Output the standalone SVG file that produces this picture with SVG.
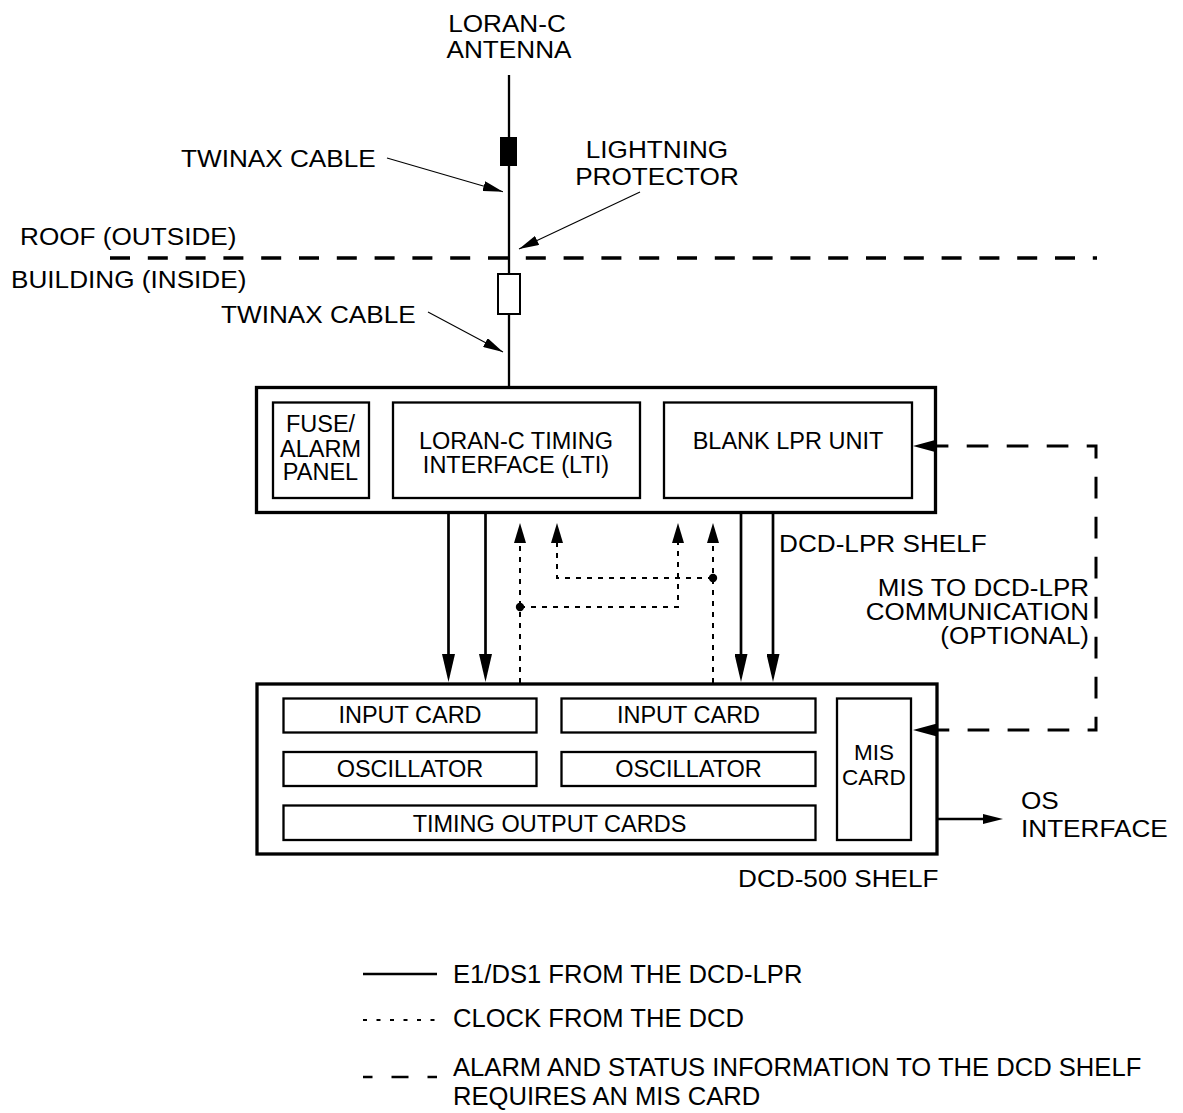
<svg xmlns="http://www.w3.org/2000/svg" width="1183" height="1113" viewBox="0 0 1183 1113">
<style>
  .t{font-family:"Liberation Sans",Arial,Helvetica,sans-serif;fill:#000}
  .o{font-size:24px}
  .o2{font-size:23px}
  .b{font-size:23.5px}
  .mc{font-size:22.5px}
  .lg{font-size:25.6px}
  .m{text-anchor:middle}
  .e{text-anchor:end}
  .shelf{fill:#fff;stroke:#000;stroke-width:3.3}
  .card{fill:#fff;stroke:#000;stroke-width:2.3}
  .solid{fill:none;stroke:#000;stroke-width:2.7}
  .dot{fill:none;stroke:#000;stroke-width:2;stroke-dasharray:5 6}
  .dash{fill:none;stroke:#000;stroke-width:3;stroke-dasharray:21.7 18.3}
  .lead{fill:none;stroke:#000;stroke-width:1.1}
</style>
<defs>
  <marker id="aSolid" markerUnits="userSpaceOnUse" viewBox="0 0 28 13" markerWidth="28" markerHeight="13" refX="20" refY="6.5" orient="auto"><path d="M0,0 L28,6.5 L0,13 z" fill="#000"/></marker>
  <marker id="aDot" markerUnits="userSpaceOnUse" viewBox="0 0 20 12" markerWidth="20" markerHeight="12" refX="12" refY="6" orient="auto"><path d="M0,0 L20,6 L0,12 z" fill="#000"/></marker>
  <marker id="aDash" markerUnits="userSpaceOnUse" viewBox="0 0 24 13" markerWidth="24" markerHeight="13" refX="16" refY="6.5" orient="auto-start-reverse"><path d="M0,0 L24,6.5 L0,13 z" fill="#000"/></marker>
  <marker id="aOS" markerUnits="userSpaceOnUse" viewBox="0 0 20 10" markerWidth="20" markerHeight="10" refX="12" refY="5" orient="auto"><path d="M0,0 L20,5 L0,10 z" fill="#000"/></marker>
  <marker id="aLead" markerUnits="userSpaceOnUse" viewBox="0 0 20 10" markerWidth="20" markerHeight="10" refX="20" refY="5" orient="auto"><path d="M0,0 L20,5 L0,10 z" fill="#000"/></marker>
</defs>
<rect width="1183" height="1113" fill="#fff"/>

<!-- roof/building boundary -->
<g id="boundary">
  <line x1="110" y1="258" x2="1097" y2="258" stroke="#000" stroke-width="3.5" stroke-dasharray="20 17.8"/>
  <text class="t o" transform="translate(20,245) scale(1.09,1)">ROOF (OUTSIDE)</text>
  <text class="t o" transform="translate(11,288) scale(1.09,1)">BUILDING (INSIDE)</text>
</g>

<!-- antenna and cable -->
<g id="antenna">
  <text class="t o m" transform="translate(507,31.5) scale(1.09,1)">LORAN-C</text>
  <text class="t o m" transform="translate(509,58.3) scale(1.09,1)">ANTENNA</text>
  <line x1="509" y1="75" x2="509" y2="387" stroke="#000" stroke-width="2.3"/>
  <rect x="500" y="137" width="17" height="29" fill="#000"/>
</g>
<g id="lightning-protector">
  <rect x="498" y="274" width="22" height="40" fill="#fff" stroke="#000" stroke-width="2"/>
  <text class="t o m" transform="translate(657,158.3) scale(1.09,1)">LIGHTNING</text>
  <text class="t o m" transform="translate(657,185) scale(1.09,1)">PROTECTOR</text>
</g>
<g id="twinax-labels">
  <text class="t o" transform="translate(181,167.3) scale(1.09,1)">TWINAX CABLE</text>
  <text class="t o" transform="translate(221,323.3) scale(1.09,1)">TWINAX CABLE</text>
</g>

<!-- DCD-LPR shelf -->
<g id="dcd-lpr-shelf">
  <rect class="shelf" x="256.5" y="387.5" width="679" height="125"/>
  <text class="t o" transform="translate(779,552) scale(1.09,1)">DCD-LPR SHELF</text>
</g>
<g id="fuse-alarm-panel">
  <rect class="card" x="273" y="402.5" width="96" height="95.5"/>
  <text class="t b m" x="320.5" y="432">FUSE/</text>
  <text class="t b m" x="320.5" y="456.5">ALARM</text>
  <text class="t b m" x="320.5" y="480">PANEL</text>
</g>
<g id="lti">
  <rect class="card" x="393" y="402.5" width="247" height="95.5"/>
  <text class="t b m" x="516" y="449">LORAN-C TIMING</text>
  <text class="t b m" x="516" y="473">INTERFACE (LTI)</text>
</g>
<g id="blank-lpr">
  <rect class="card" x="664" y="402.5" width="248" height="95.5"/>
  <text class="t b m" x="788" y="449">BLANK LPR UNIT</text>
</g>

<!-- DCD-500 shelf -->
<g id="dcd-500-shelf">
  <rect class="shelf" x="257" y="684" width="680" height="170"/>
  <text class="t o" transform="translate(738,887) scale(1.09,1)">DCD-500 SHELF</text>
</g>
<g id="input-card-1">
  <rect class="card" x="283.5" y="698.5" width="253" height="34"/>
  <text class="t b m" x="410" y="723">INPUT CARD</text>
</g>
<g id="input-card-2">
  <rect class="card" x="561.5" y="698.5" width="254" height="34"/>
  <text class="t b m" x="688.5" y="723">INPUT CARD</text>
</g>
<g id="oscillator-1">
  <rect class="card" x="283.5" y="752" width="253" height="34"/>
  <text class="t b m" x="410" y="777">OSCILLATOR</text>
</g>
<g id="oscillator-2">
  <rect class="card" x="561.5" y="752" width="254" height="34"/>
  <text class="t b m" x="688.5" y="777">OSCILLATOR</text>
</g>
<g id="timing-output-cards">
  <rect class="card" x="283.5" y="805.5" width="532" height="34.5"/>
  <text class="t b m" x="549.5" y="832">TIMING OUTPUT CARDS</text>
</g>
<g id="mis-card">
  <rect class="card" x="837" y="698.5" width="74" height="141.5"/>
  <text class="t mc m" x="874" y="760">MIS</text>
  <text class="t mc m" x="874" y="784.5">CARD</text>
</g>

<g id="os-interface">
  <text class="t o" transform="translate(1021,809) scale(1.09,1)">OS</text>
  <text class="t o" transform="translate(1021,837) scale(1.09,1)">INTERFACE</text>
</g>
<g id="mis-comm-label">
  <text class="t o2 e" transform="translate(1089,596) scale(1.13,1)">MIS TO DCD-LPR</text>
  <text class="t o2 e" transform="translate(1089,620) scale(1.13,1)">COMMUNICATION</text>
  <text class="t o2 e" transform="translate(1089,644) scale(1.13,1)">(OPTIONAL)</text>
</g>

<!-- connectors -->
<g id="connectors">
  <line class="lead" x1="387" y1="158" x2="503" y2="191.7" marker-end="url(#aLead)"/>
  <line class="lead" x1="640" y1="192" x2="519" y2="249" marker-end="url(#aLead)"/>
  <line class="lead" x1="428" y1="312" x2="503" y2="352" marker-end="url(#aLead)"/>

  <line class="solid" x1="448.5" y1="514" x2="448.5" y2="674" marker-end="url(#aSolid)"/>
  <line class="solid" x1="485.5" y1="514" x2="485.5" y2="674" marker-end="url(#aSolid)"/>
  <line class="solid" x1="741" y1="514" x2="741" y2="674" marker-end="url(#aSolid)"/>
  <line class="solid" x1="773" y1="514" x2="773" y2="674" marker-end="url(#aSolid)"/>

  <line class="dot" x1="520" y1="683" x2="520" y2="531" marker-end="url(#aDot)"/>
  <polyline class="dot" points="520,607 678,607 678,531" marker-end="url(#aDot)"/>
  <polyline class="dot" points="713,578 557,578 557,531" marker-end="url(#aDot)"/>
  <line class="dot" x1="713" y1="683" x2="713" y2="531" marker-end="url(#aDot)"/>
  <circle cx="520" cy="607" r="4.2" fill="#000"/>
  <circle cx="713" cy="578" r="4.2" fill="#000"/>

  <path class="dash" d="M921,446 H1096 V730 H921" stroke-dashoffset="34.3" marker-start="url(#aDash)" marker-end="url(#aDash)"/>

  <line class="solid" x1="937" y1="819" x2="995" y2="819" marker-end="url(#aOS)"/>
</g>

<!-- legend -->
<g id="legend">
  <line x1="363" y1="974" x2="437" y2="974" stroke="#000" stroke-width="2.7"/>
  <text class="t lg" x="453" y="983.3">E1/DS1 FROM THE DCD-LPR</text>
  <line x1="363" y1="1020" x2="437" y2="1020" stroke="#000" stroke-width="2" stroke-dasharray="4 9.5"/>
  <text class="t lg" x="453" y="1026.5">CLOCK FROM THE DCD</text>
  <line x1="363" y1="1077" x2="437" y2="1077" stroke="#000" stroke-width="2.7" stroke-dasharray="9.5 19 17 19 9.5 50"/>
  <text class="t lg" x="453" y="1076">ALARM AND STATUS INFORMATION TO THE DCD SHELF</text>
  <text class="t lg" x="453" y="1105">REQUIRES AN MIS CARD</text>
</g>
</svg>
